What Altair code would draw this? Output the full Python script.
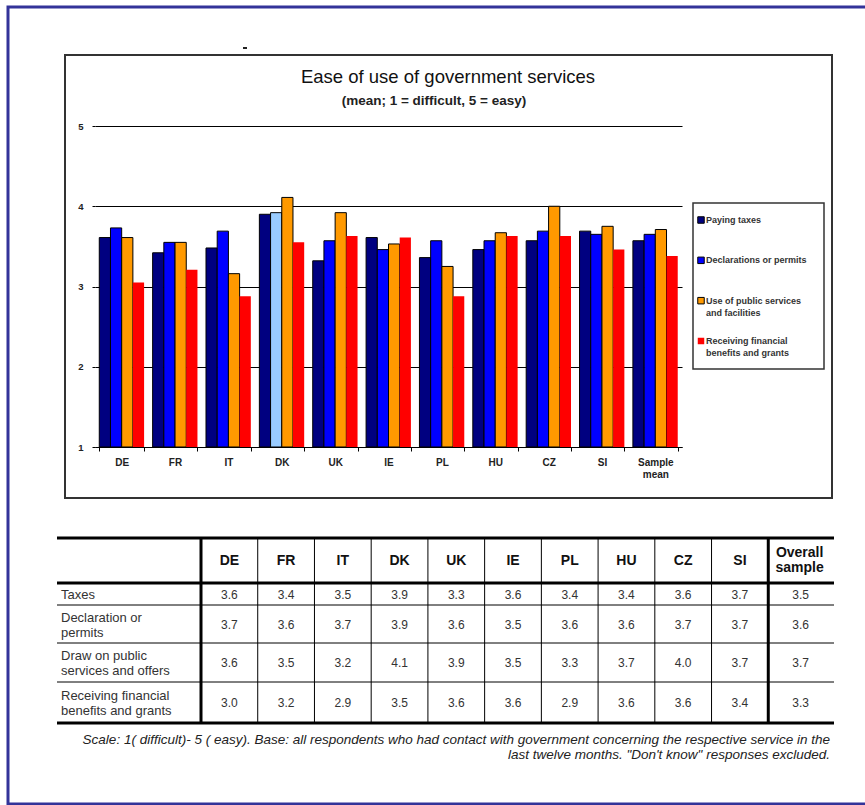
import altair as alt
import pandas as pd

# ---------------- data ----------------
countries = ["DE", "FR", "IT", "DK", "UK", "IE", "PL", "HU", "CZ", "SI", "Sample mean"]
series = ["Paying taxes", "Declarations or permits",
          "Use of public services and facilities",
          "Receiving financial benefits and grants"]
legend_labels = ["Paying taxes", "Declarations or permits",
                 "Use of public services\nand facilities",
                 "Receiving financial\nbenefits and grants"]
paying_taxes    = [3.61, 3.42, 3.48, 3.90, 3.32, 3.61, 3.36, 3.46, 3.57, 3.69, 3.57]
declarations    = [3.73, 3.55, 3.69, 3.92, 3.57, 3.46, 3.57, 3.57, 3.69, 3.65, 3.65]
public_services = [3.61, 3.55, 3.16, 4.11, 3.92, 3.53, 3.25, 3.67, 4.00, 3.75, 3.71]
financial       = [3.05, 3.21, 2.88, 3.55, 3.63, 3.61, 2.88, 3.63, 3.63, 3.46, 3.38]

table_cols = ["DE", "FR", "IT", "DK", "UK", "IE", "PL", "HU", "CZ", "SI", "Overall sample"]
table_headers = ["DE", "FR", "IT", "DK", "UK", "IE", "PL", "HU", "CZ", "SI", "Overall\nsample"]
table_row_labels = ["Taxes", "Declaration or\npermits", "Draw on public\nservices and offers",
                    "Receiving financial\nbenefits and grants"]
tbl_taxes = [3.6, 3.4, 3.5, 3.9, 3.3, 3.6, 3.4, 3.4, 3.6, 3.7, 3.5]
tbl_decl  = [3.7, 3.6, 3.7, 3.9, 3.6, 3.5, 3.6, 3.6, 3.7, 3.7, 3.6]
tbl_draw  = [3.6, 3.5, 3.2, 4.1, 3.9, 3.5, 3.3, 3.7, 4.0, 3.7, 3.7]
tbl_recv  = [3.0, 3.2, 2.9, 3.5, 3.6, 3.6, 2.9, 3.6, 3.6, 3.4, 3.3]

title_text = "Ease of use of government services"
subtitle_text = "(mean; 1 = difficult, 5 = easy)"
footnote_text = ("Scale:  1( difficult)- 5 ( easy). Base: all respondents who had contact with "
                 "government concerning the respective service in the\n"
                 "last twelve months. \"Don't know\" responses excluded.")

# ---------------- styles / layout ----------------
colors = ["#000080", "#0000FF", "#FF9900", "#FF0000"]
highlight_color = "#99CCFF"   # DK declarations bar drawn light blue in the original
FONT = "Liberation Sans"
PX0, PY0, PX1, PY1 = 95, 126, 682, 447
W, H = 865, 805


def X(px):
    return px - PX0


def Y(py):
    return py - PY0


one = pd.DataFrame({"a": [0]})

bars_df = pd.DataFrame(
    [{"country": c, "series": s, "value": v}
     for s, vals in zip(series, [paying_taxes, declarations, public_services, financial])
     for c, v in zip(countries, vals)]
)

bars = alt.Chart(bars_df).mark_bar(stroke="black").encode(
    x=alt.X("country:N", sort=countries,
            scale=alt.Scale(domain=countries, paddingInner=0.16, paddingOuter=0.08),
            axis=alt.Axis(title=None, labelAngle=0, tickBand="extent", tickSize=4,
                          tickColor="black", domainColor="black", grid=False,
                          labelFont=FONT, labelFontSize=10, labelFontWeight="bold",
                          labelColor="#222", labelPadding=6, labelLineHeight=12,
                          labelExpr="datum.value === 'Sample mean' ? ['Sample', 'mean'] : datum.label")),
    xOffset=alt.XOffset("series:N", sort=series,
                        scale=alt.Scale(domain=series, paddingInner=0, paddingOuter=0)),
    y=alt.Y("value:Q", scale=alt.Scale(domain=[1, 5], zero=False, nice=False),
            axis=alt.Axis(title=None, values=[1, 2, 3, 4, 5], format="d", domain=False,
                          grid=True, gridColor="black", gridOpacity=1, gridWidth=1,
                          tickSize=3, tickColor="black", labelFont=FONT, labelFontSize=9.5,
                          labelFontWeight="bold", labelColor="#222", labelPadding=9)),
    y2=alt.datum(1),
    color=alt.condition(
        "datum.country === 'DK' && datum.series === 'Declarations or permits'",
        alt.value(highlight_color),
        alt.Color("series:N", scale=alt.Scale(domain=series, range=colors), legend=None)),
    strokeWidth=alt.condition(f"datum.series === '{series[3]}'", alt.value(0), alt.value(1)),
)

layers = [bars]

# outer blue frame and chart box
layers.append(alt.Chart(one).mark_rect(filled=False, stroke="#333399", strokeWidth=3).encode(
    x=alt.value(X(8)), x2=alt.value(X(890)), y=alt.value(Y(7)), y2=alt.value(Y(804))))
layers.append(alt.Chart(one).mark_rect(filled=False, stroke="#333", strokeWidth=2).encode(
    x=alt.value(X(65)), x2=alt.value(X(832)), y=alt.value(Y(55)), y2=alt.value(Y(498))))
layers.append(alt.Chart(one).mark_rule(color="#222", strokeWidth=2).encode(
    x=alt.value(X(243)), x2=alt.value(X(247)), y=alt.value(Y(48))))

# titles
layers.append(alt.Chart(one).mark_text(font=FONT, fontSize=18.5, color="#111", align="center",
                                       baseline="middle").encode(
    x=alt.value(X(448)), y=alt.value(Y(77)), text=alt.value(title_text)))
layers.append(alt.Chart(one).mark_text(font=FONT, fontSize=13.5, fontWeight="bold", color="#222",
                                       align="center", baseline="middle").encode(
    x=alt.value(X(434)), y=alt.value(Y(101)), text=alt.value(subtitle_text)))

# legend
leg_df = pd.DataFrame({"series": series, "label": legend_labels})
leg_y = alt.Y("series:N", scale=alt.Scale(type="point", domain=series,
                                          range=[Y(220), Y(341)], padding=0), axis=None)
layers.append(alt.Chart(one).mark_rect(filled=False, stroke="#333", strokeWidth=1.5).encode(
    x=alt.value(X(693)), x2=alt.value(X(824)), y=alt.value(Y(203)), y2=alt.value(Y(369))))
layers.append(alt.Chart(leg_df).mark_square(size=42, opacity=1, stroke="black").encode(
    x=alt.value(X(701)), y=leg_y,
    color=alt.Color("series:N", scale=alt.Scale(domain=series, range=colors), legend=None),
    strokeWidth=alt.condition(f"datum.series === '{series[3]}'", alt.value(0), alt.value(1))))
layers.append(alt.Chart(leg_df).mark_text(font=FONT, fontSize=9, fontWeight="bold", color="#333",
                                          align="left", baseline="alphabetic", dy=3,
                                          lineBreak="\n", lineHeight=12).encode(
    x=alt.value(X(706)), y=leg_y, text="label:N"))

# table
tbl_x_scale = alt.Scale(type="band", domain=table_cols, range=[X(201), X(825)],
                        paddingInner=0, paddingOuter=0)
T_TOP, T_HEAD, T_BOT = 538, 583, 723
row_lines = [605, 643, 682]
row_centers = [595, 625, 663, 703]

for yy, sw in [(T_TOP, 3), (T_HEAD, 3), (T_BOT, 3)] + [(r, 1) for r in row_lines]:
    layers.append(alt.Chart(one).mark_rule(color="black", strokeWidth=sw).encode(
        x=alt.value(X(57)), x2=alt.value(X(834)), y=alt.value(Y(yy))))

col_df = pd.DataFrame({"col": table_cols, "header": table_headers})
layers.append(alt.Chart(col_df).mark_rule(color="black").encode(
    x=alt.X("col:N", scale=tbl_x_scale, axis=None, bandPosition=0),
    y=alt.value(Y(T_TOP)), y2=alt.value(Y(T_BOT)),
    strokeWidth=alt.condition(f"datum.col === '{table_cols[0]}' || datum.col === '{table_cols[-1]}'",
                              alt.value(3), alt.value(1))))
# single-line headers
layers.append(alt.Chart(col_df).transform_filter(
    f"datum.col !== '{table_cols[-1]}'").mark_text(
    font=FONT, fontSize=14, fontWeight="bold", color="#111", baseline="middle").encode(
    x=alt.X("col:N", scale=tbl_x_scale, axis=None, bandPosition=0.5),
    y=alt.value(Y(561)), text="header:N"))
# two-line header (Overall sample)
layers.append(alt.Chart(col_df).transform_filter(
    f"datum.col === '{table_cols[-1]}'").mark_text(
    font=FONT, fontSize=14, fontWeight="bold", color="#111", baseline="middle",
    lineBreak="\n", lineHeight=15, dx=3, dy=-7.5).encode(
    x=alt.X("col:N", scale=tbl_x_scale, axis=None, bandPosition=0.5),
    y=alt.value(Y(560.5)), text="header:N"))

for label, vals, yc in zip(table_row_labels, [tbl_taxes, tbl_decl, tbl_draw, tbl_recv], row_centers):
    rdf = pd.DataFrame({"col": table_cols, "value": vals})
    layers.append(alt.Chart(rdf).transform_filter(
        f"datum.col !== '{table_cols[-1]}'").mark_text(
        font=FONT, fontSize=12, color="#333", baseline="middle").encode(
        x=alt.X("col:N", scale=tbl_x_scale, axis=None, bandPosition=0.5),
        y=alt.value(Y(yc)), text=alt.Text("value:Q", format=".1f")))
    layers.append(alt.Chart(rdf).transform_filter(
        f"datum.col === '{table_cols[-1]}'").mark_text(
        font=FONT, fontSize=12, color="#333", baseline="middle", dx=4).encode(
        x=alt.X("col:N", scale=tbl_x_scale, axis=None, bandPosition=0.5),
        y=alt.value(Y(yc)), text=alt.Text("value:Q", format=".1f")))
    nlines = label.count("\n") + 1
    layers.append(alt.Chart(one).mark_text(font=FONT, fontSize=13, color="#333", align="left",
                                           baseline="middle", lineBreak="\n", lineHeight=15,
                                           dy=-(nlines - 1) * 7.5).encode(
        x=alt.value(X(61)), y=alt.value(Y(yc)), text=alt.value(label)))

# footnote
layers.append(alt.Chart(one).mark_text(font=FONT, fontSize=13.5, fontStyle="italic", color="#222",
                                       align="right", baseline="middle", lineBreak="\n",
                                       lineHeight=15).encode(
    x=alt.value(X(830)), y=alt.value(Y(740)), text=alt.value(footnote_text)))

chart = alt.layer(*layers).resolve_scale(
    x="independent", y="independent", color="independent"
).properties(
    width=PX1 - PX0, height=PY1 - PY0,
    autosize=alt.AutoSizeParams(type="none"),
    padding={"left": PX0, "top": PY0, "right": W - PX1, "bottom": H - PY1},
    background="white",
).configure_view(stroke=None)

chart.save("out.html", embed_options={"renderer": "svg", "actions": False})
